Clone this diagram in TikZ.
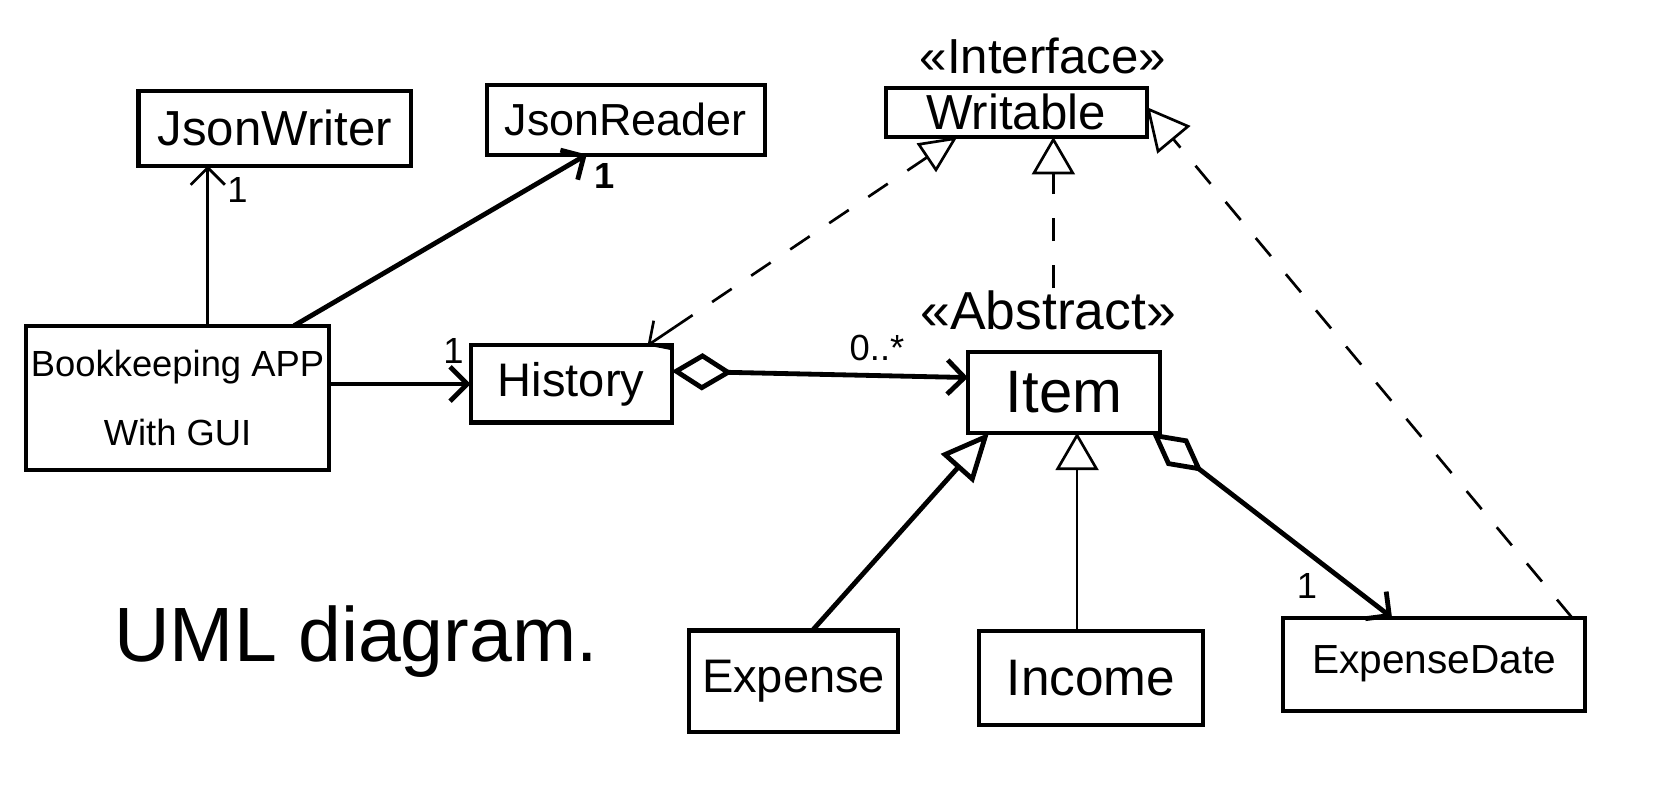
\documentclass[tikz,border=0pt]{standalone}
\usepackage{fontspec}
\setmainfont{Liberation Sans}
\usetikzlibrary{arrows.meta,calc}
\tikzset{
  box/.style={draw,line width=3.8pt,inner sep=0pt,outer sep=0pt},
  conthick/.style={line width=4.5pt},
  conthin/.style={line width=2.5pt},
  dashline/.style={line width=2.5pt,dash pattern=on 22pt off 22pt},
  barbtip/.style={-{Straight Barb[length=16pt,width=32pt]}},
  mult/.style={font=\fontsize{34}{38}\selectfont,inner sep=1pt},
  stereo/.style={inner sep=2pt},
}
\begin{document}
\begin{tikzpicture}[x=1pt,y=-1pt]
\useasboundingbox (0,0) rectangle (1568,748);
% boxes
\node[box,minimum width=255pt,minimum height=70pt,font=\fontsize{46}{50}\selectfont] (jw) at (257,120) {JsonWriter};
\node[box,minimum width=260pt,minimum height=65pt,font=\fontsize{42}{46}\selectfont] (jr) at (585,112) {JsonReader};
\node[box,minimum width=244pt,minimum height=46pt,font=\fontsize{46}{50}\selectfont] (wr) at (950,105) {Writable};
\node[stereo,font=\fontsize{46}{50}\selectfont] (if) at (975,52) {«Interface»};
\node[box,minimum width=283pt,minimum height=135pt,align=center,font=\fontsize{34}{65}\selectfont] (bk) at (166,372) {Bookkeeping APP\\With GUI};
\node[box,minimum width=188pt,minimum height=72pt,font=\fontsize{44}{48}\selectfont] (hi) at (534,359) {History};
\node[box,minimum width=180pt,minimum height=75pt,font=\fontsize{56}{60}\selectfont] (it) at (995,367) {Item};
\node[stereo,font=\fontsize{50}{54}\selectfont] (ab) at (980,290) {«Abstract»};
\node[box,minimum width=195pt,minimum height=95pt,font=\fontsize{44}{48}\selectfont] (ex) at (742,637) {Expense};
\node[box,minimum width=210pt,minimum height=88pt,font=\fontsize{48}{52}\selectfont] (in) at (1020,634) {Income};
\node[box,minimum width=282pt,minimum height=87pt,font=\fontsize{38}{42}\selectfont] (ed) at (1341,621) {ExpenseDate};
\node[font=\fontsize{72}{76}\selectfont] (uml) at (333,600) {UML diagram.};
% coordinates on box edges
\coordinate (bkN) at ($(bk.north west)!0.6!(bk.north east)$);
\coordinate (wrI) at ($(wr.south west)!0.643!(wr.south east)$);
\coordinate (itI) at ($(it.south west)!0.567!(it.south east)$);
\coordinate (wrH) at ($(wr.south west)!0.275!(wr.south east)$);
\coordinate (hiW) at ($(hi.north west)!0.88!(hi.north east)$);
% connectors
\draw[conthin,barbtip] (bkN) -- (bkN |- jw.south);
\draw[conthick,barbtip] ($(bk.north west)!0.885!(bk.north east)$) -- ($(jr.south west)!0.36!(jr.south east)$);
\draw[conthick,barbtip] (bk.east |- hi.west) -- (hi.west);
\draw[conthick,{Diamond[open,length=57pt,width=35pt]}-{Straight Barb[length=16pt,width=32pt]}] ([yshift=12pt]hi.east) -- ([yshift=14pt]it.west);
\draw[dashline,{Triangle[open,length=35pt,width=32pt]}-] (wrH) -- ($(hiW)!30pt!(wrH)$);
\draw[conthin,barbtip] ($(hiW)!30pt!(wrH)$) -- (hiW);
\draw[dashline,-{Triangle[open,length=35pt,width=40pt]}] (ab.north -| wrI) -- (wrI);
\draw[dashline,-{Triangle[open,length=40pt,width=40pt]}] ($(ed.north west)!0.957!(ed.north east)$) -- ([yshift=5pt]wr.east);
\draw[conthick,-{Triangle[open,length=45pt,width=40pt]}] ($(ex.north west)!0.59!(ex.north east)$) -- ($(it.south west)!0.11!(it.south east)$);
\draw[conthin,-{Triangle[open,length=35pt,width=40pt]}] (in.north -| itI) -- (itI);
\draw[conthick,{Diamond[open,length=60pt,width=32pt]}-{Straight Barb[length=16pt,width=32pt]}] ([xshift=-8pt]it.south east) -- ($(ed.north west)!0.36!(ed.north east)$);
% multiplicities
\node[mult] (m1) at (222,178) {1};
\node[mult,font=\bfseries\fontsize{34}{38}\selectfont] (m2) at (565,165) {1};
\node[mult] (m3) at (424,328) {1};
\node[mult] (m4) at (820,325) {0..*};
\node[mult] (m5) at (1222,548) {1};
\end{tikzpicture}
\end{document}
